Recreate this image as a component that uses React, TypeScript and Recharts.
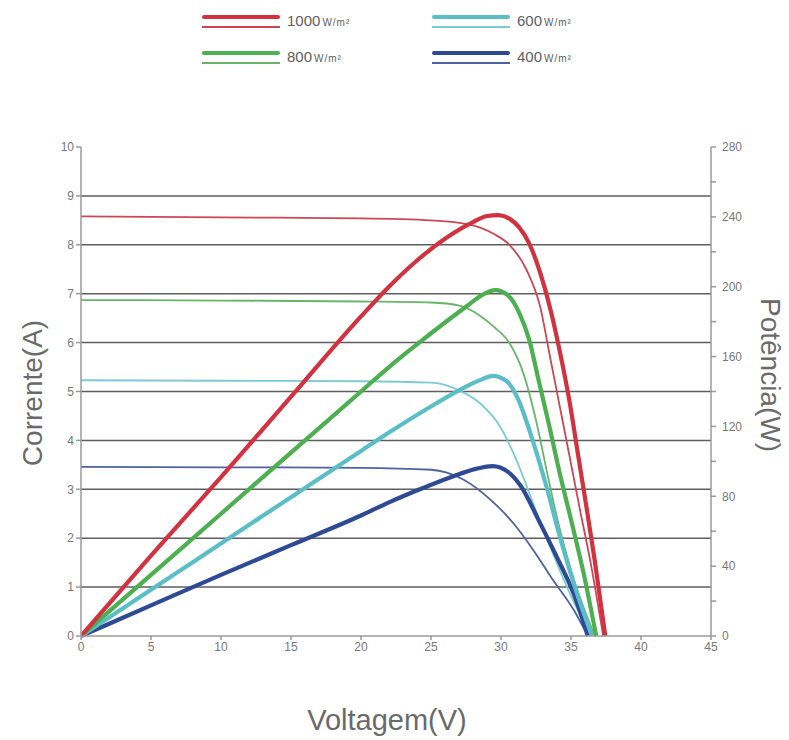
import React from 'react';
import { LineChart, Line, XAxis, YAxis, ReferenceLine, Legend } from 'recharts';

// Voltage (V) vs current (A) curves — thin lines, left axis
const iv1000: number[][] = [[0,8.58],[10,8.56],[20,8.54],[25,8.5],[27,8.45],[28.5,8.35],[29.5,8.22],[30.6,8.0],[31.8,7.5],[32.8,6.73],[33.5,5.71],[34.2,4.69],[34.9,3.67],[35.6,2.64],[36.4,1.5],[37.3,0]];
const iv800: number[][] = [[0,6.87],[10,6.86],[20,6.84],[25,6.82],[27.1,6.75],[28.5,6.55],[29.5,6.32],[30.6,5.99],[31.6,5.37],[32.55,4.35],[33.3,3.33],[34.1,2.3],[35.05,1.3],[36.7,0]];
const iv600: number[][] = [[0,5.23],[10,5.22],[20,5.21],[25,5.18],[26.8,5.05],[28.5,4.76],[29.9,4.3],[31.1,3.6],[32.3,2.71],[33.5,1.83],[34.7,1.01],[36.4,0]];
const iv400: number[][] = [[0,3.46],[10,3.45],[20,3.44],[25,3.4],[27.3,3.2],[29.2,2.8],[30.9,2.3],[32.3,1.76],[33.7,1.15],[35.2,0.53],[36.2,0]];

// Voltage (V) vs power (W) curves — thick lines, right axis
const pv1000: number[][] = [[0,0],[5,46],[10,91],[15,137],[20,183],[22,200],[24,215],[26,227.5],[28,237],[29,240.5],[29.8,241],[30.6,239],[31.3,234],[32,225],[32.8,208],[33.5,188],[34.2,163],[34.9,134],[35.5,104],[36.1,74],[36.7,43],[37.45,0]];
const pv800: number[][] = [[0,0],[5,35],[10,70],[15,105],[20,140],[22,154],[24,167],[26,179.5],[27.5,188.5],[28.7,195.5],[29.6,198],[30.5,195],[31.3,185],[32,170],[32.7,146],[33.4,122],[34.2,93],[35.05,65],[35.9,36],[36.8,0]];
const pv600: number[][] = [[0,0],[5,26.5],[10,53],[15,79.5],[20,106],[22,116.5],[24.9,131],[27.3,142],[28.5,146.5],[29.4,149],[30.4,146],[31.2,136],[32.3,111],[33.3,84],[34.2,57],[35.2,30],[36.5,0]];
const pv400: number[][] = [[0,0],[5,17.5],[10,35],[15,52],[20,69],[22,76.5],[24.2,84],[26.6,91.5],[28.2,95.7],[29.4,97.3],[30.5,94],[31.4,86],[32.8,64.5],[34,45],[35.2,24],[36.2,0]];

const xTicks = [0, 5, 10, 15, 20, 25, 30, 35, 40, 45];
const leftTicks = [0, 1, 2, 3, 4, 5, 6, 7, 8, 9, 10];
const rightTicks = [0, 20, 40, 60, 80, 100, 120, 140, 160, 180, 200, 220, 240, 260, 280];
const gridValues = [1, 2, 3, 4, 5, 6, 7, 8, 9];

const irradiance = ['1000', '800', '600', '400'];
const thickColors = ['#d2323f', '#4caf50', '#5bbec6', '#2e4a94'];
const thinColors = ['#cc4756', '#68b56a', '#7ccbd1', '#4f62a0'];

const toData = (arr: number[][]) => arr.map(([v, y]) => ({ v, y }));
const ivSeries = [iv1000, iv800, iv600, iv400];
const pvSeries = [pv1000, pv800, pv600, pv400];

const FONT = '"Liberation Sans", Arial, sans-serif';
const TEXT = '#6a6a6a';

const legendPos = [
  { left: 202, top: 15 },
  { left: 202, top: 51 },
  { left: 432, top: 15 },
  { left: 432, top: 51 },
];

const LegendContent = () => (
  <div style={{ position: 'relative', width: 789, height: 80 }}>
    {irradiance.map((lbl, i) => (
      <div key={lbl} style={{ position: 'absolute', left: legendPos[i].left, top: legendPos[i].top }}>
        <div style={{ position: 'absolute', left: 0, top: 0, width: 78, height: 4, background: thickColors[i], borderRadius: 2 }} />
        <div style={{ position: 'absolute', left: 0, top: 11, width: 78, height: 2, background: thinColors[i] }} />
        <div style={{ position: 'absolute', left: 85, top: -3, whiteSpace: 'nowrap', fontFamily: FONT, color: '#5e5e5e', fontSize: 15 }}>
          {lbl}
          <span style={{ fontSize: 10, marginLeft: 2, letterSpacing: 1 }}>W/m²</span>
        </div>
      </div>
    ))}
  </div>
);

export default function App() {
  return (
    <div style={{ position: 'absolute', left: 0, top: 0, width: 789, height: 740, background: '#fff' }}>
      <LineChart width={789} height={740} margin={{ top: 67, right: 18, left: 41, bottom: 74 }}>
        <XAxis
          dataKey="v"
          type="number"
          domain={[0, 45]}
          ticks={xTicks}
          allowDataOverflow
          height={30}
          tickSize={4}
          stroke="#9a9a9a"
          strokeWidth={1.5}
          tick={{ fill: '#777', fontSize: 12, fontFamily: FONT }}
        />
        <YAxis
          yAxisId="left"
          domain={[0, 10]}
          ticks={leftTicks}
          width={40}
          tickSize={5}
          stroke="#9a9a9a"
          strokeWidth={1.5}
          tick={{ fill: '#777', fontSize: 12, fontFamily: FONT }}
        />
        <YAxis
          yAxisId="right"
          orientation="right"
          domain={[0, 280]}
          ticks={rightTicks}
          width={60}
          tickSize={5}
          tickMargin={6}
          stroke="#9a9a9a"
          strokeWidth={1.5}
          tickFormatter={(v: number) => (v % 40 === 0 ? String(v) : '')}
          tick={{ fill: '#777', fontSize: 12, fontFamily: FONT }}
        />
        {gridValues.map((g) => (
          <ReferenceLine key={g} yAxisId="left" y={g} stroke="#5e5e5e" strokeWidth={1.5} />
        ))}
        <Legend verticalAlign="top" align="left" wrapperStyle={{ top: 0, left: 0, width: 789, height: 80 }} content={<LegendContent />} />
        {[3, 2, 1, 0].map((i) => (
          <Line
            key={'iv' + i}
            yAxisId="left"
            data={toData(ivSeries[i])}
            dataKey="y"
            type="monotone"
            stroke={thinColors[i]}
            strokeWidth={1.8}
            dot={false}
            isAnimationActive={false}
            legendType="none"
          />
        ))}
        {[3, 2, 1, 0].map((i) => (
          <Line
            key={'pv' + i}
            yAxisId="right"
            data={toData(pvSeries[i])}
            dataKey="y"
            type="monotone"
            stroke={thickColors[i]}
            strokeWidth={4.2}
            dot={false}
            isAnimationActive={false}
            legendType="none"
          />
        ))}
      </LineChart>
      <div style={{ position: 'absolute', left: 33, top: 393, transform: 'translate(-50%, -50%) rotate(-90deg)', whiteSpace: 'nowrap', fontFamily: FONT, fontSize: 28, color: TEXT }}>
        Corrente(A)
      </div>
      <div style={{ position: 'absolute', left: 770, top: 375, transform: 'translate(-50%, -50%) rotate(90deg)', whiteSpace: 'nowrap', fontFamily: FONT, fontSize: 28, color: TEXT }}>
        Potência(W)
      </div>
      <div style={{ position: 'absolute', left: 387, top: 720, transform: 'translate(-50%, -50%)', whiteSpace: 'nowrap', fontFamily: FONT, fontSize: 29, color: TEXT }}>
        Voltagem(V)
      </div>
    </div>
  );
}
